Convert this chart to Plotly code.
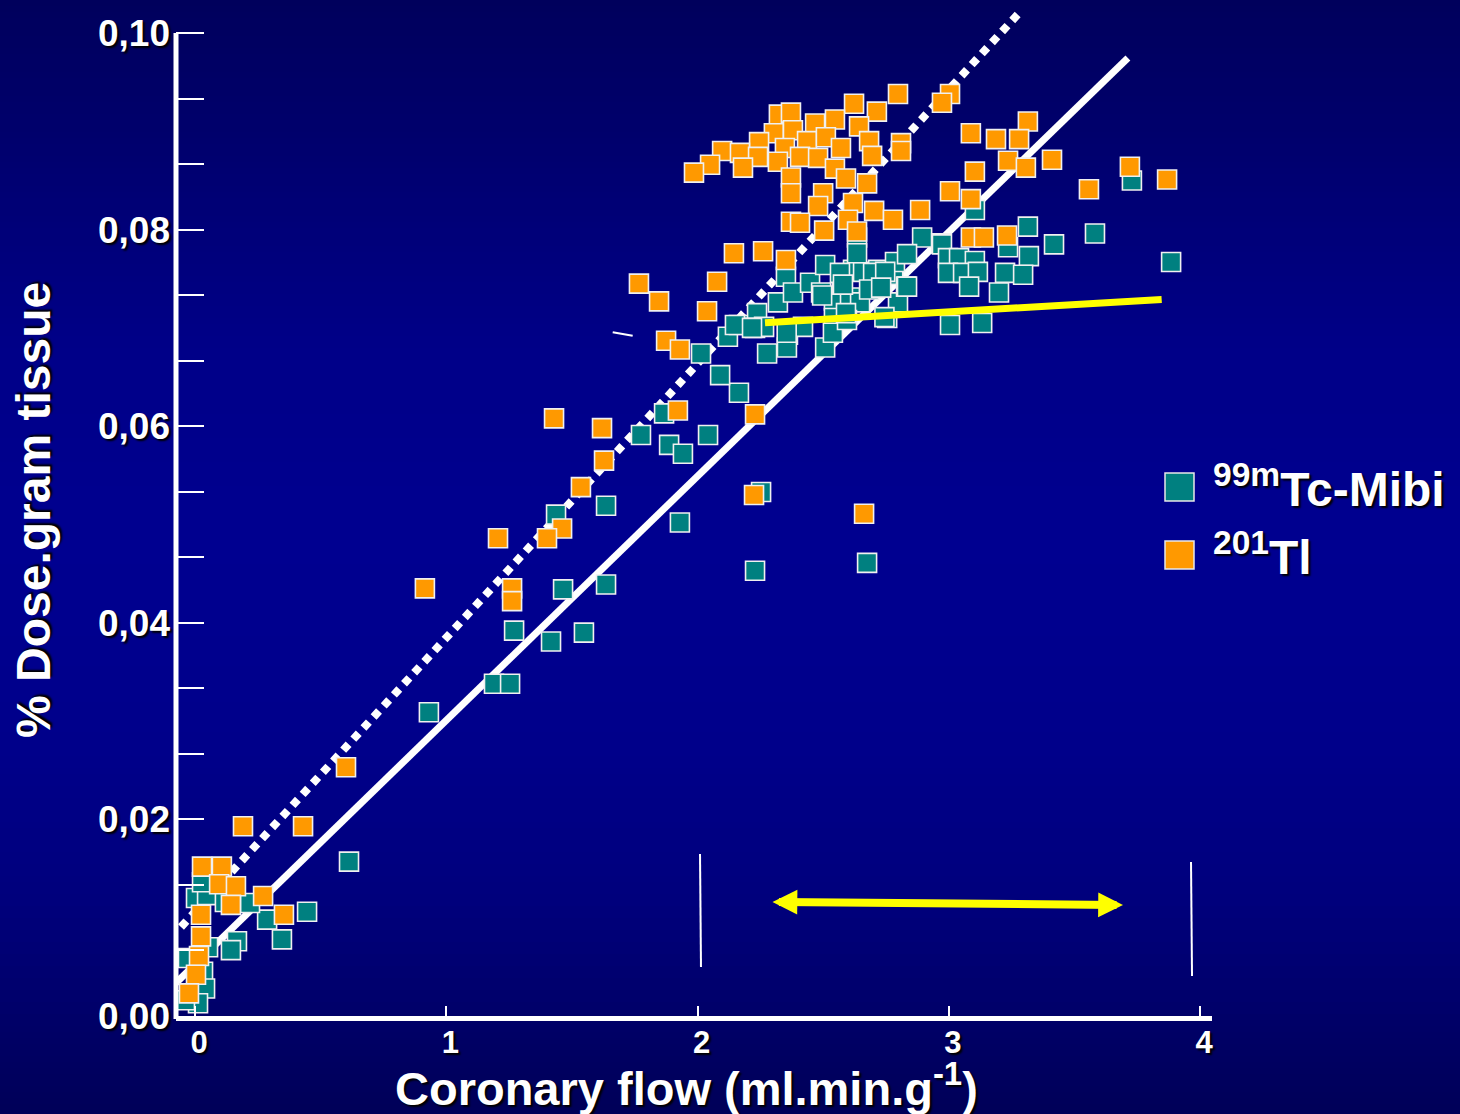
import plotly.graph_objects as go

# ---------------- data ----------------
mibi_x = [0.613, 0.446, 0.346, 0.287, 0.219, 0.167, 0.143, 0.052, 0.004, 0.048, 0.028, -0.028, 0.032, 0.040, 0.012, -0.040, 0.119,
          1.190, 1.254, 1.270, 1.417, 1.548, 1.465, 1.636, 1.636, 1.437, 1.930, 2.229, 2.253, 1.775, 1.887, 1.942, 2.042, 1.867, 2.165, 0.931, 2.675,
          2.014, 2.121, 2.165, 2.237, 2.229, 2.265, 2.277, 2.320, 2.352, 2.380, 2.360, 2.356, 2.420, 2.448, 2.508, 2.492, 2.543, 2.543, 2.575,
          2.619, 2.607, 2.659, 2.647, 2.707, 2.719, 2.779, 2.786, 2.755, 2.798, 2.830, 2.894, 2.970, 2.508, 2.539, 2.595, 2.635, 2.090,
          2.567, 2.699, 2.747, 2.683, 2.731, 2.496, 2.579, 2.149, 2.217, 2.635, 2.744, 2.591, 2.355,
          2.973, 2.997, 3.041, 3.104, 2.997, 3.057, 3.116, 3.081, 2.834, 2.834, 3.315, 3.419, 3.319, 3.224, 3.296, 3.200, 3.582, 3.885,
          3.729, 3.005, 3.133, 3.104, 3.236]
mibi_y = [0.0157, 0.0106, 0.0078, 0.0098, 0.0115, 0.0076, 0.0067, 0.0070, 0.0120, 0.0123, 0.0136, 0.0059, 0.0045, 0.0028, 0.0013, 0.0016, 0.0116,
          0.0338, 0.0338, 0.0392, 0.0381, 0.0390, 0.0434, 0.0439, 0.0519, 0.0510, 0.0502, 0.0453, 0.0533, 0.0591, 0.0581, 0.0572, 0.0591, 0.0613, 0.0634, 0.0309, 0.0461,
          0.0674, 0.0691, 0.0703, 0.0715, 0.0700, 0.0701, 0.0674, 0.0726, 0.0752, 0.0736, 0.0693, 0.0680, 0.0701, 0.0746, 0.0764, 0.0736, 0.0728, 0.0710, 0.0744,
          0.0759, 0.0731, 0.0757, 0.0726, 0.0742, 0.0759, 0.0754, 0.0767, 0.0710, 0.0726, 0.0742, 0.0792, 0.0786, 0.0680, 0.0695, 0.0708, 0.0792, 0.0652,
          0.0756, 0.0756, 0.0757, 0.0739, 0.0741, 0.0733, 0.0744, 0.0703, 0.0700, 0.0776, 0.0711, 0.0715, 0.0695,
          0.0785, 0.0771, 0.0771, 0.0768, 0.0756, 0.0756, 0.0757, 0.0742, 0.0775, 0.0742, 0.0803, 0.0785, 0.0773, 0.0756, 0.0754, 0.0736, 0.0796, 0.0767,
          0.0850, 0.0703, 0.0705, 0.0820, 0.0782]

tl_x = [0.028, 0.107, 0.096, 0.163, 0.143, 0.271, 0.354, 0.024, 0.024, 0.016, 0.004, -0.024,
        0.191, 0.430, 0.601, 0.915, 1.206, 1.262, 1.262,
        1.429, 1.620, 1.628, 1.536, 1.461, 1.401, 1.922, 2.229, 2.225, 2.663,
        2.798, 2.623, 2.714, 2.324, 2.372, 2.468, 2.547, 2.643, 2.304, 2.380, 2.245, 2.436, 2.511, 2.571, 2.683, 2.810,
        2.098, 2.169, 2.241, 2.348, 2.408, 2.480, 2.320, 2.050, 2.181, 1.986, 2.547, 2.695, 2.810, 2.372, 2.372, 2.591,
        2.675, 2.500, 2.480, 2.619, 2.703, 2.778, 2.372, 2.408, 2.504, 2.599, 2.635, 2.886, 2.145, 2.261, 2.352,
        1.767, 1.847, 2.078, 2.038, 1.875, 1.930,
        3.005, 2.973, 3.315, 3.088, 3.188, 3.280, 3.236, 3.307, 3.411, 3.104, 3.721, 3.869, 3.558, 3.005, 3.088,
        3.088, 3.140, 3.232]
tl_y = [0.0152, 0.0152, 0.0134, 0.0132, 0.0113, 0.0122, 0.0103, 0.0103, 0.0081, 0.0061, 0.0042, 0.0023,
        0.0193, 0.0193, 0.0253, 0.0435, 0.0486, 0.0435, 0.0422,
        0.0608, 0.0598, 0.0565, 0.0538, 0.0496, 0.0486, 0.0616, 0.0612, 0.0530, 0.0511,
        0.0938, 0.0928, 0.0920, 0.0917, 0.0919, 0.0908, 0.0912, 0.0905, 0.0898, 0.0901, 0.0889, 0.0890, 0.0894, 0.0883, 0.0890, 0.0888,
        0.0880, 0.0878, 0.0874, 0.0883, 0.0874, 0.0873, 0.0869, 0.0866, 0.0863, 0.0858, 0.0862, 0.0875, 0.0880, 0.0853, 0.0837, 0.0852,
        0.0847, 0.0837, 0.0824, 0.0827, 0.0819, 0.0810, 0.0808, 0.0807, 0.0799, 0.0810, 0.0798, 0.0820, 0.0776, 0.0778, 0.0769,
        0.0745, 0.0727, 0.0747, 0.0717, 0.0687, 0.0678,
        0.0938, 0.0929, 0.0910, 0.0898, 0.0892, 0.0892, 0.0870, 0.0863, 0.0871, 0.0859, 0.0864, 0.0851, 0.0841, 0.0839, 0.0831,
        0.0792, 0.0792, 0.0794]

# regression / annotation lines (data coordinates)
tl_fit_x = [-0.0557, 3.2836]
tl_fit_y = [0.00905, 0.10214]
mibi_fit_x = [-0.0756, 3.713]
mibi_fit_y = [0.00336, 0.09746]
plateau_x = [2.2686, 3.8475]
plateau_y = [0.07053, 0.07290]
range_arrow_x = [2.2925, 3.6935]
range_arrow_y = [0.01160, 0.01129]
marker_left_x = [2.0100, 2.0139]
marker_left_y = [0.01648, 0.00498]
marker_right_x = [3.9642, 3.9682]
marker_right_y = [0.01567, 0.00407]
dash_x = [1.6625, 1.7420]
dash_y = [0.06955, 0.06920]

y_tick_vals = [0.0, 0.02, 0.04, 0.06, 0.08, 0.10]
y_tick_text = ["0,00", "0,02", "0,04", "0,06", "0,08", "0,10"]
x_tick_vals = [0, 1, 2, 3, 4]
x_tick_text = ["0", "1", "2", "3", "4"]

series_names = ["<sup>99m</sup>Tc-Mibi", "<sup>201</sup>Tl"]
series_colors = ["#008080", "#FF9900"]

# ---------------- figure ----------------
W, H = 1460, 1114
ML, MR, MT, MB = 176, 248, 4, 98
PW, PH = W - ML - MR, H - MT - MB
X_RANGE = [-0.07562, 4.04776]
Y_RANGE = [0.0, 0.10295]

FONT = "Liberation Sans, Arial, sans-serif"
SHADOW = "2px 2px 2px #000000"

fig = go.Figure()

fig.add_trace(go.Scatter(x=mibi_fit_x, y=mibi_fit_y, mode="lines",
                         line=dict(color="white", width=7), hoverinfo="skip"))
fig.add_trace(go.Scatter(x=tl_fit_x, y=tl_fit_y, mode="lines",
                         line=dict(color="white", width=8, dash="8px,7px"), hoverinfo="skip"))
for lx, ly in [(marker_left_x, marker_left_y), (marker_right_x, marker_right_y), (dash_x, dash_y)]:
    fig.add_trace(go.Scatter(x=lx, y=ly, mode="lines",
                             line=dict(color="white", width=2), hoverinfo="skip"))

fig.add_trace(go.Scatter(x=mibi_x, y=mibi_y, mode="markers", name=series_names[0],
                         marker=dict(symbol="square", size=19, color=series_colors[0],
                                     line=dict(color="#F0F0F0", width=1.6))))
fig.add_trace(go.Scatter(x=tl_x, y=tl_y, mode="markers", name=series_names[1],
                         marker=dict(symbol="square", size=19, color=series_colors[1],
                                     line=dict(color="#F0F0F0", width=1.6))))

fig.add_trace(go.Scatter(x=plateau_x, y=plateau_y, mode="lines",
                         line=dict(color="#FFFF00", width=7), hoverinfo="skip"))

# ---------------- background gradient ----------------
def px_to_py(py):
    return (H - MB - py) / PH

stops = [(0, 0x5C), (150, 0x6E), (350, 0x88), (550, 0x90), (750, 0x8A), (900, 0x7C), (1020, 0x68), (1114, 0x58)]

def blue_at(py):
    for (a, ca), (b, cb) in zip(stops[:-1], stops[1:]):
        if a <= py <= b:
            t = (py - a) / (b - a)
            return int(round(ca + (cb - ca) * t))
    return stops[-1][1]

shapes = []
step = 6
for py in range(0, H, step):
    b = blue_at(py + step / 2)
    shapes.append(dict(type="rect", xref="paper", yref="paper",
                       x0=-0.3, x1=1.4, y0=px_to_py(py + step + 0.5), y1=px_to_py(py),
                       fillcolor=f"rgb(0,0,{b})", line=dict(width=0), layer="below"))

# y axis line (stops at 0.10)
shapes.append(dict(type="line", xref="paper", yref="paper", x0=0, x1=0,
                   y0=-0.003, y1=0.10 / Y_RANGE[1], line=dict(color="white", width=5)))

# legend squares
def px_x(px):
    return (px - ML) / PW

for i, (top, bot) in enumerate([(473, 501), (541, 569)]):
    shapes.append(dict(type="rect", xref="paper", yref="paper",
                       x0=px_x(1165), x1=px_x(1194), y0=px_to_py(bot), y1=px_to_py(top),
                       fillcolor=series_colors[i], line=dict(color="#E8E8E8", width=1.5)))

annotations = []
# double arrow
annotations.append(dict(x=range_arrow_x[1], y=range_arrow_y[1], ax=range_arrow_x[0], ay=range_arrow_y[0],
                        xref="x", yref="y", axref="x", ayref="y", text="", showarrow=True,
                        arrowhead=2, startarrowhead=2, arrowside="end+start",
                        arrowwidth=8, arrowsize=0.62, startarrowsize=0.62, arrowcolor="#FFFF00",
                        standoff=0, startstandoff=0))
# legend labels
for i, py in enumerate([486, 554]):
    annotations.append(dict(x=px_x(1211), y=px_to_py(py), xref="paper", yref="paper",
                            xanchor="left", yanchor="middle", text=series_names[i], showarrow=False,
                            font=dict(family=FONT, size=48, color="white", weight="bold", shadow=SHADOW)))
# axis titles
annotations.append(dict(x=px_x(686), y=px_to_py(1085), xref="paper", yref="paper",
                        xanchor="center", yanchor="middle", showarrow=False,
                        text="Coronary flow (ml.min.g<sup>-1</sup>)",
                        font=dict(family=FONT, size=47, color="white", weight="bold", shadow=SHADOW)))
annotations.append(dict(x=px_x(33), y=px_to_py(510), xref="paper", yref="paper",
                        xanchor="center", yanchor="middle", showarrow=False, textangle=-90,
                        text="% Dose.gram tissue",
                        font=dict(family=FONT, size=48, color="white", weight="bold", shadow=SHADOW)))

fig.update_layout(
    width=W, height=H,
    margin=dict(l=ML, r=MR, t=MT, b=MB, pad=0),
    paper_bgcolor="#000078",
    plot_bgcolor="rgba(0,0,0,0)",
    showlegend=False,
    shapes=shapes,
    annotations=annotations,
    xaxis=dict(range=X_RANGE, showgrid=False, zeroline=False,
               showline=True, linecolor="white", linewidth=5,
               tickmode="array", tickvals=x_tick_vals, ticktext=x_tick_text,
               ticks="inside", ticklen=10, tickwidth=2, tickcolor="white",
               ticklabelshift=4, ticklabelstandoff=-5,
               tickfont=dict(family=FONT, size=31, color="white", weight="bold", shadow=SHADOW)),
    yaxis=dict(range=Y_RANGE, showgrid=False, zeroline=False, showline=False,
               tickmode="array", tickvals=y_tick_vals, ticktext=y_tick_text,
               ticks="inside", ticklen=28, tickwidth=2, tickcolor="white",
               minor=dict(dtick=0.02 / 3, tick0=0, ticks="inside", ticklen=28, tickwidth=2, tickcolor="white"),
               ticklabelstandoff=5,
               tickfont=dict(family=FONT, size=37, color="white", weight="bold", shadow=SHADOW)),
)

fig.write_html(
    "out.html",
    config={"displayModeBar": False},
    post_script="document.documentElement.style.margin='0';document.body.style.margin='0';"
                "document.body.style.overflow='hidden';document.body.style.background='#00005C';",
)
